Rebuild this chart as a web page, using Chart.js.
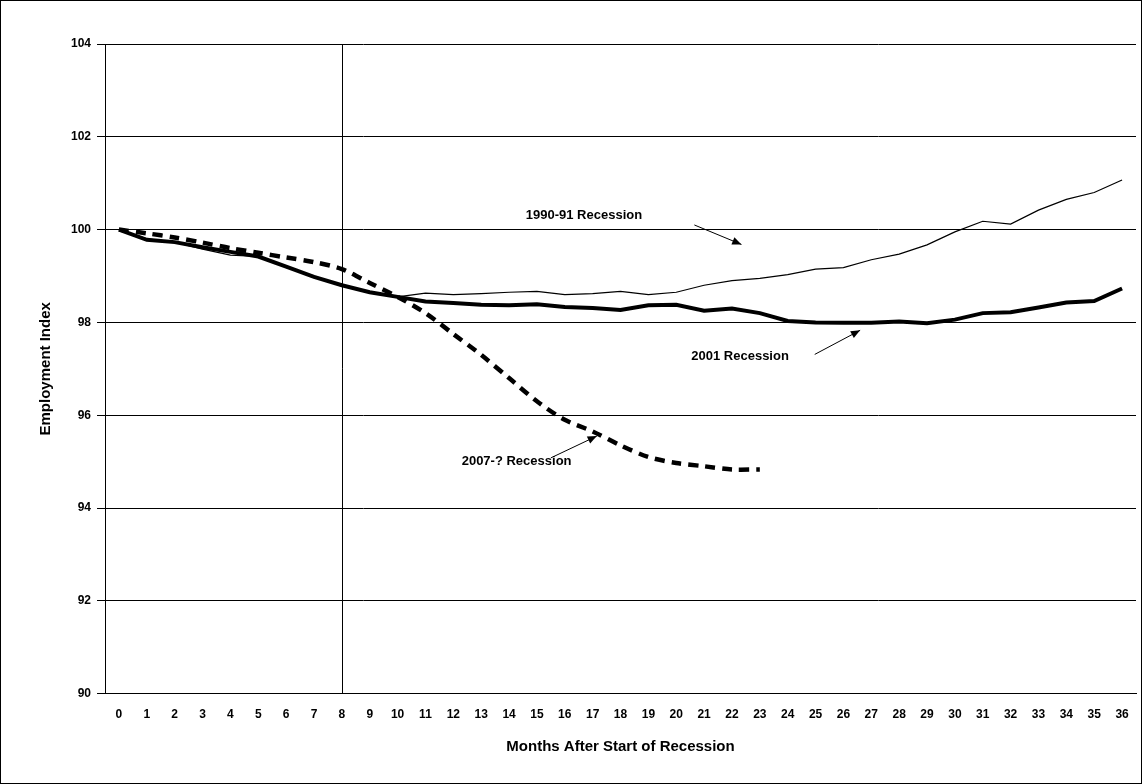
<!DOCTYPE html>
<html><head><meta charset="utf-8">
<script src="https://cdn.jsdelivr.net/npm/chart.js@4"></script>
<style>
html,body{margin:0;padding:0;background:#fff;}
#wrap{position:absolute;left:0;top:0;width:1140px;height:782px;border:1px solid #000;}
</style></head><body>
<div id="wrap"><canvas id="c"></canvas></div>
<script>
const months = Array.from({length:37},(_, i)=>String(i));
const r1990 = [100,99.8,99.73,99.58,99.45,99.42,99.2,99.0,98.8,98.65,98.55,98.63,98.6,98.62,98.65,98.67,98.6,98.62,98.67,98.6,98.65,98.8,98.9,98.95,99.03,99.15,99.18,99.35,99.47,99.67,99.95,100.18,100.12,100.42,100.65,100.8,101.07];
const r2001 = [100,99.78,99.73,99.62,99.52,99.42,99.2,98.98,98.8,98.65,98.55,98.45,98.42,98.38,98.37,98.39,98.33,98.31,98.27,98.37,98.38,98.25,98.3,98.2,98.03,98.0,97.99,97.99,98.02,97.98,98.06,98.2,98.22,98.32,98.43,98.46,98.73];
const r2007 = [100,99.92,99.83,99.72,99.6,99.5,99.4,99.3,99.15,98.85,98.55,98.2,97.75,97.3,96.8,96.3,95.9,95.65,95.35,95.1,94.97,94.9,94.83,94.83];
const notes = [
  {text:"1990-91 Recession", x:14.6, y:100.3, from:[20.65,100.1], to:[22.34,99.68]},
  {text:"2001 Recession", x:20.54, y:97.27, from:[24.97,97.31], to:[26.6,97.83]},
  {text:"2007-? Recession", x:12.3, y:95.0, from:[15.5,95.08], to:[17.15,95.55]}
];
const font = "'Liberation Sans', Arial, sans-serif";
const annot = {
  id:'annot',
  afterDatasetsDraw(ch){
    const c=ch.ctx, xs=ch.scales.x, ys=ch.scales.y;
    const px=v=>{const a=xs.getPixelForValue(0),b=xs.getPixelForValue(1);return a+(b-a)*v;};
    c.save();
    c.strokeStyle='#000';c.lineWidth=1;c.beginPath();
    const x8=Math.round(px(8))+0.5;c.moveTo(x8,ch.chartArea.top);c.lineTo(x8,ch.chartArea.bottom);c.stroke();
    c.font="bold 13px "+font;c.fillStyle='#000';c.textBaseline='middle';
    notes.forEach(n=>{
      c.fillText(n.text,px(n.x),ys.getPixelForValue(n.y));
      const x1=px(n.from[0]),y1=ys.getPixelForValue(n.from[1]),x2=px(n.to[0]),y2=ys.getPixelForValue(n.to[1]);
      c.beginPath();c.moveTo(x1,y1);c.lineTo(x2,y2);c.stroke();
      const ang=Math.atan2(y2-y1,x2-x1),L=10;
      c.beginPath();c.moveTo(x2,y2);
      c.lineTo(x2-L*Math.cos(ang-0.4),y2-L*Math.sin(ang-0.4));
      c.lineTo(x2-L*Math.cos(ang+0.4),y2-L*Math.sin(ang+0.4));c.closePath();c.fill();
    });
    c.restore();
  }
};
new Chart(document.getElementById('c'),{
  type:'line',
  data:{labels:months,datasets:[
    {label:'1990-91',data:r1990,borderColor:'#000',borderWidth:1.2,pointRadius:0,tension:0},
    {label:'2001',data:r2001,borderColor:'#000',borderWidth:4,pointRadius:0,tension:0},
    {label:'2007',data:r2007,borderColor:'#000',borderWidth:4.5,borderDash:[10,7],pointRadius:0,tension:0.3}
  ]},
  options:{
    responsive:true,maintainAspectRatio:false,animation:false,
    layout:{padding:{left:32,right:5,top:43,bottom:23}},
    plugins:{legend:{display:false},tooltip:{enabled:false}},
    scales:{
      x:{offset:true,grid:{display:false},border:{color:'#000'},
        ticks:{color:'#000',font:{family:font,size:12,weight:'bold'},maxRotation:0,autoSkip:false,padding:6},
        title:{display:true,text:'Months After Start of Recession',color:'#000',font:{family:font,size:15,weight:'bold'},padding:{top:10}}},
      y:{min:90,max:104,grid:{color:'#000',lineWidth:1},border:{color:'#000'},
        ticks:{stepSize:2,color:'#000',font:{family:font,size:12,weight:'bold'},padding:6},
        title:{display:true,text:'Employment Index',color:'#000',font:{family:font,size:15,weight:'bold'},padding:{bottom:10}}}
    }
  },
  plugins:[annot]
});
</script></body></html>
